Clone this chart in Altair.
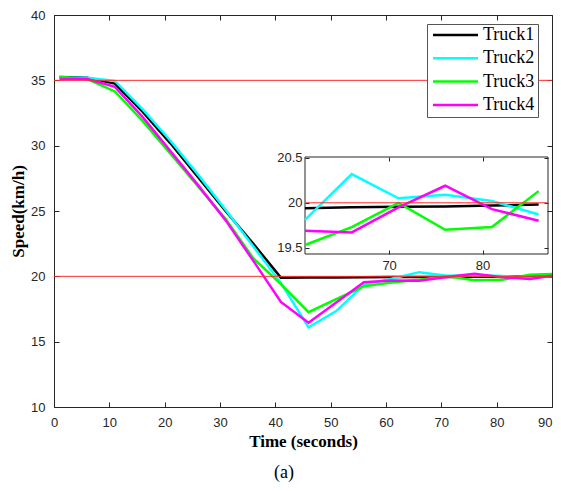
import altair as alt
import pandas as pd

# ---- data ----
time_s = [1, 6, 11, 16, 21, 26, 31, 36, 41, 46, 51, 56, 61, 66, 71, 76, 81, 86, 91]
truck1 = [35.25, 35.2, 34.75, 32.6, 30.2, 27.6, 25.0, 22.5, 19.9, 19.91, 19.92, 19.93,
          19.94, 19.95, 19.955, 19.96, 19.97, 19.98, 19.985]
truck2 = [35.2, 35.2, 34.95, 32.8, 30.4, 27.8, 25.1, 22.3, 19.5, 16.1, 17.34, 19.36,
          19.81, 20.32, 20.05, 20.09, 20.02, 19.87, 20.07]
truck3 = [35.25, 35.1, 34.15, 31.9, 29.4, 26.9, 24.4, 21.39, 19.4, 17.26, 18.25, 19.24,
          19.53, 19.73, 20.0, 19.70, 19.73, 20.13, 20.18]
truck4 = [35.1, 35.1, 34.5, 32.2, 29.6, 27.0, 24.3, 21.2, 18.04, 16.45, 18.0, 19.54,
          19.69, 19.67, 19.95, 20.19, 19.93, 19.80, 20.10]
names = ["Truck1", "Truck2", "Truck3", "Truck4"]
colors = ["#000000", "#00ffff", "#00ff00", "#ff00ff"]
ref_levels = [35, 20]
x_ticks = [0, 10, 20, 30, 40, 50, 60, 70, 80, 90]
y_ticks = [10, 15, 20, 25, 30, 35, 40]
inset_x_domain = [61, 87]
inset_y_domain = [19.43, 20.51]
inset_x_ticks = [70, 80]
inset_y_ticks = [19.5, 20, 20.5]
inset_ref = [20]

rows = []
for n, s in zip(names, [truck1, truck2, truck3, truck4]):
    for t, v in zip(time_s, s):
        rows.append({"time": t, "speed": v, "truck": n})
df = pd.DataFrame(rows)
inset_df = df[(df.time >= inset_x_domain[0]) & (df.time <= 86)]

W, H = 498, 392
TOP = 7
TK = 5
NB = "\u00a0"

color = alt.Color(
    "truck:N",
    scale=alt.Scale(domain=names, range=colors),
    legend=alt.Legend(
        title=None, orient="none", legendX=373, legendY=9,
        symbolType="stroke", symbolSize=2025, symbolStrokeWidth=2.5,
        labelFont="Liberation Serif", labelFontSize=18, labelColor="black",
        clipHeight=16, rowPadding=5.3, padding=3, symbolOffset=1.5, labelOffset=3.5,
        strokeColor="#555555", fillColor="white",
        labelExpr="datum.label + '" + NB * 3 + "'",
    ),
)

main_x = alt.Scale(domain=[0, 90], nice=False, zero=False)
main_y = alt.Scale(domain=[10, 40], nice=False, zero=False)

lines = alt.Chart(df).mark_line(strokeWidth=2.5, clip=True).encode(
    x=alt.X("time:Q", scale=main_x,
            axis=alt.Axis(orient="bottom", values=x_ticks, offset=-TK, tickSize=TK,
                          domain=False, grid=False, labelPadding=9, labelFlush=False,
                          labelAlign={"condition": {"test": "datum.value == 90",
                                                    "value": "right"},
                                      "value": "center"},
                          title="Time (seconds)", titlePadding=4)),
    y=alt.Y("speed:Q", scale=main_y,
            axis=alt.Axis(orient="left", values=y_ticks, offset=-TK, tickSize=TK,
                          domain=False, grid=False, labelPadding=9, labelFlush=False,
                          title="Speed(km/h)", titlePadding=3)),
    color=color,
    order=alt.Order("time:Q"),
)

rules = alt.Chart(pd.DataFrame({"y": ref_levels})).mark_rule(
    color="#ff2a2a", strokeWidth=1).encode(
    y=alt.Y("y:Q", scale=main_y, axis=None))

frame_axes = alt.Chart(df).mark_point(opacity=0).encode(
    x=alt.X("time:Q", scale=main_x,
            axis=alt.Axis(orient="top", values=x_ticks, offset=-TK, tickSize=TK,
                          domain=False, grid=False, labels=False, title=None)),
    y=alt.Y("speed:Q", scale=main_y,
            axis=alt.Axis(orient="right", values=y_ticks, offset=-TK, tickSize=TK,
                          domain=False, grid=False, labels=False, title=None)),
)

IB, IT = 239, 142
ix = alt.Scale(domain=inset_x_domain, range=[251, 494], nice=False, zero=False)
iy = alt.Scale(domain=inset_y_domain, range=[IB, IT], nice=False, zero=False)
ITK = 4

inset_frame = alt.Chart(pd.DataFrame({
    "x0": [inset_x_domain[0]], "x1": [inset_x_domain[1]],
    "y0": [inset_y_domain[0]], "y1": [inset_y_domain[1]]})).mark_rect(
    fill="white", fillOpacity=0, stroke="#262626", strokeWidth=1).encode(
    x=alt.X("x0:Q", scale=ix,
            axis=alt.Axis(orient="top", values=inset_x_ticks, offset=-(IT + ITK),
                          tickSize=ITK, domain=False, grid=False, labels=False, title=None)),
    x2="x1:Q",
    y=alt.Y("y0:Q", scale=iy,
            axis=alt.Axis(orient="right", values=inset_y_ticks, offset=-(W - 494 + ITK),
                          tickSize=ITK, domain=False, grid=False, labels=False, title=None)),
    y2="y1:Q",
)

inset_lines = alt.Chart(inset_df).mark_line(strokeWidth=2.5).encode(
    x=alt.X("time:Q", scale=ix,
            axis=alt.Axis(orient="bottom", values=inset_x_ticks, offset=-(H - IB + ITK),
                          tickSize=ITK, domain=False, grid=False, labelPadding=5,
                          labelFlush=False, title=None)),
    y=alt.Y("speed:Q", scale=iy,
            axis=alt.Axis(orient="left", values=inset_y_ticks, format="~g",
                          offset=-(251 + ITK), tickSize=ITK, domain=False, grid=False,
                          labelPadding=3, labelFlush=False, title=None)),
    color=color,
    order=alt.Order("time:Q"),
)

inset_rule = alt.Chart(pd.DataFrame({
    "x0": [inset_x_domain[0]], "x1": [inset_x_domain[1]], "y": inset_ref})).mark_rule(
    color="#ff2a2a", strokeWidth=1).encode(
    x=alt.X("x0:Q", scale=ix, axis=None),
    x2="x1:Q",
    y=alt.Y("y:Q", scale=iy, axis=None),
)

chart = alt.layer(
    lines, rules, frame_axes, inset_frame, inset_lines, inset_rule
).resolve_scale(
    x="independent", y="independent", color="shared"
).properties(
    width=W, height=H,
    autosize="none",
    padding={"left": 46, "top": TOP, "right": 1, "bottom": 75},
    background="white",
    title=alt.TitleParams(text="(a)", orient="bottom", anchor="middle",
                          font="Liberation Serif", fontSize=18, fontWeight="normal",
                          color="black", offset=15, dx=-19),
).configure_view(
    stroke="#262626", strokeWidth=1
).configure_axis(
    labelFont="Liberation Sans", labelFontSize=13, labelColor="#262626",
    tickColor="#262626", tickWidth=1,
    titleFont="Liberation Serif", titleFontSize=17, titleFontWeight="bold",
    titleColor="black",
)

chart.save("out.html", embed_options={"renderer": "svg", "actions": False})
